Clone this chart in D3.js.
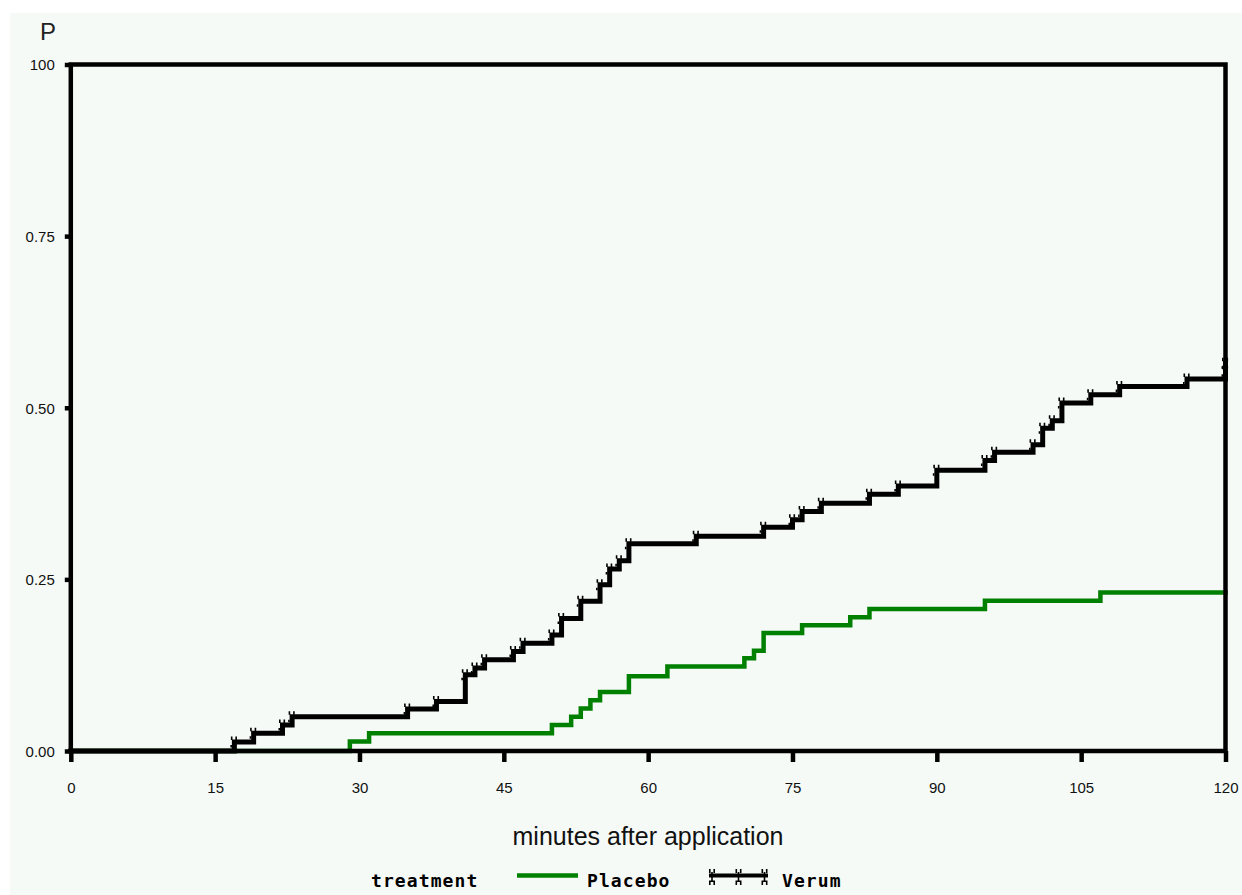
<!DOCTYPE html>
<html>
<head>
<meta charset="utf-8">
<script src="https://cdn.jsdelivr.net/npm/d3@7"></script>
<style>
  html, body { margin: 0; padding: 0; background: #ffffff; }
  svg { display: block; }
</style>
</head>
<body>
<svg id="chart" width="1242" height="895"></svg>
<script>
// ---- data ----
const xTicks = [0, 15, 30, 45, 60, 75, 90, 105, 120];
const yTicks = [0, 0.25, 0.5, 0.75, 1.0];
const yTickLabels = ["0.00", "0.25", "0.50", "0.75", "100"];

const placeboTime = [0, 29, 31, 50, 52, 53, 54, 55, 58, 62, 70, 71, 72, 76, 81, 83, 95, 107, 120];
const placeboP    = [0, 0.014, 0.026, 0.038, 0.050, 0.062, 0.074, 0.086, 0.109, 0.123, 0.135, 0.146, 0.172, 0.183, 0.195, 0.207, 0.219, 0.231, 0.231];

const verumTime = [0, 17, 19, 22, 23, 35, 38, 41, 42, 43, 46, 47, 50, 51, 53, 55, 56, 57, 58, 65, 72, 75, 76, 78, 83, 86, 90, 95, 96, 100, 101, 102, 103, 106, 109, 116, 120, 120];
const verumP    = [0, 0.013, 0.026, 0.038, 0.050, 0.061, 0.072, 0.111, 0.121, 0.133, 0.145, 0.157, 0.169, 0.193, 0.218, 0.242, 0.265, 0.277, 0.302, 0.313, 0.326, 0.337, 0.349, 0.361, 0.374, 0.386, 0.409, 0.423, 0.435, 0.446, 0.470, 0.481, 0.507, 0.519, 0.531, 0.542, 0.553, 0.565];

const seriesNames = ["Placebo", "Verum"];
const legendTitle = "treatment";
const xTitle = "minutes after application";
const yTitle = "P";

// ---- layout ----
const svg = d3.select("#chart");
const mLeft = 70.8, mRight = 1225.5, mTop = 64.5, mBottom = 751;
const bg = "#f6faf7";
const green = "#008000";

svg.append("rect").attr("x", 10).attr("y", 13).attr("width", 1232).attr("height", 882).attr("fill", bg);

const x = d3.scaleLinear().domain([0, 120]).range([mLeft, mRight]);
const y = d3.scaleLinear().domain([0, 1]).range([mBottom, mTop]);

const placebo = placeboTime.map((t, i) => ({t, p: placeboP[i]}));
const verum = verumTime.map((t, i) => ({t, p: verumP[i]}));

const line = d3.line().x(d => x(d.t)).y(d => y(d.p)).curve(d3.curveStepAfter);

// placebo line
svg.append("path").datum(placebo).attr("d", line)
  .attr("fill", "none").attr("stroke", green).attr("stroke-width", 4.5)
  .attr("stroke-linejoin", "miter").attr("stroke-linecap", "square");

// verum markers (drawn under line)
function markerPath(cx, cy) {
  return `M${cx-3.5},${cy-5.5}h1.6v3.5h-1.6z M${cx+1},${cy-5.5}h1.6v3.5h-1.6z M${cx-4},${cy+3}h1.6v2.5h-1.6z`;
}
svg.append("g").selectAll("path").data(verum.filter(d => d.t > 0)).join("path")
  .attr("d", d => markerPath(x(d.t), y(d.p)))
  .attr("fill", "#000");

// verum line
svg.append("path").datum(verum).attr("d", line)
  .attr("fill", "none").attr("stroke", "#000").attr("stroke-width", 5)
  .attr("stroke-linejoin", "miter").attr("stroke-linecap", "square");

// ---- frame & axes ----
svg.append("rect").attr("x", mLeft).attr("y", mTop).attr("width", mRight - mLeft).attr("height", mBottom - mTop)
  .attr("fill", "none").attr("stroke", "#000").attr("stroke-width", 4.5);

const xAxis = d3.axisBottom(x).tickValues(xTicks).tickSize(11).tickPadding(20).tickFormat(d3.format("d"));
const gx = svg.append("g").attr("transform", `translate(0,${mBottom})`).call(xAxis);
gx.select(".domain").remove();
gx.selectAll(".tick line").attr("stroke", "#000").attr("stroke-width", 4.5);
gx.selectAll(".tick text").attr("font-family", "Liberation Sans, Arial, sans-serif")
  .attr("font-size", 15).attr("fill", "#111").attr("dy", "0").attr("y", 42);

const yAxis = d3.axisLeft(y).tickValues(yTicks).tickSize(6).tickPadding(10)
  .tickFormat((d, i) => yTickLabels[i]);
const gy = svg.append("g").attr("transform", `translate(${mLeft},0)`).call(yAxis);
gy.select(".domain").remove();
gy.selectAll(".tick line").attr("stroke", "#000").attr("stroke-width", 4.5);
gy.selectAll(".tick text").attr("font-family", "Liberation Sans, Arial, sans-serif")
  .attr("font-size", 15).attr("fill", "#111").attr("dy", "0.35em").attr("x", -16);

// titles
svg.append("text").attr("x", 40).attr("y", 39.5).text(yTitle)
  .attr("font-family", "Liberation Sans, Arial, sans-serif").attr("font-size", 24).attr("fill", "#222");

svg.append("text").attr("x", 648).attr("y", 845).attr("text-anchor", "middle").text(xTitle)
  .attr("font-family", "Liberation Sans, Arial, sans-serif").attr("font-size", 25).attr("fill", "#111");

// ---- legend ----
const legFont = "DejaVu Sans Mono, Liberation Mono, monospace";
const legY = 887;
function legText(xp, s) {
  svg.append("text").attr("x", xp).attr("y", legY).text(s)
    .attr("font-family", legFont).attr("font-weight", "bold").attr("font-size", 18)
    .attr("letter-spacing", 1.1).attr("fill", "#000");
}
legText(371, legendTitle);
svg.append("line").attr("x1", 517).attr("x2", 578).attr("y1", 875.5).attr("y2", 875.5)
  .attr("stroke", green).attr("stroke-width", 4.5);
legText(587, seriesNames[0]);

svg.append("line").attr("x1", 709).attr("x2", 768).attr("y1", 875.5).attr("y2", 875.5)
  .attr("stroke", "#000").attr("stroke-width", 4);
[712, 738.5, 764.5].forEach(cx => {
  svg.append("path")
    .attr("d", `M${cx-3},${869}h1.6v4h-1.6z M${cx+1.4},${869}h1.6v4h-1.6z M${cx-0.8},${872}h1.6v10h-1.6z M${cx-3},${881}h1.6v4h-1.6z M${cx+1.4},${881}h1.6v4h-1.6z M${cx-3},${880.5}h6v1.6h-6z`)
    .attr("fill", "#000");
});
legText(782, seriesNames[1]);
</script>
</body>
</html>
